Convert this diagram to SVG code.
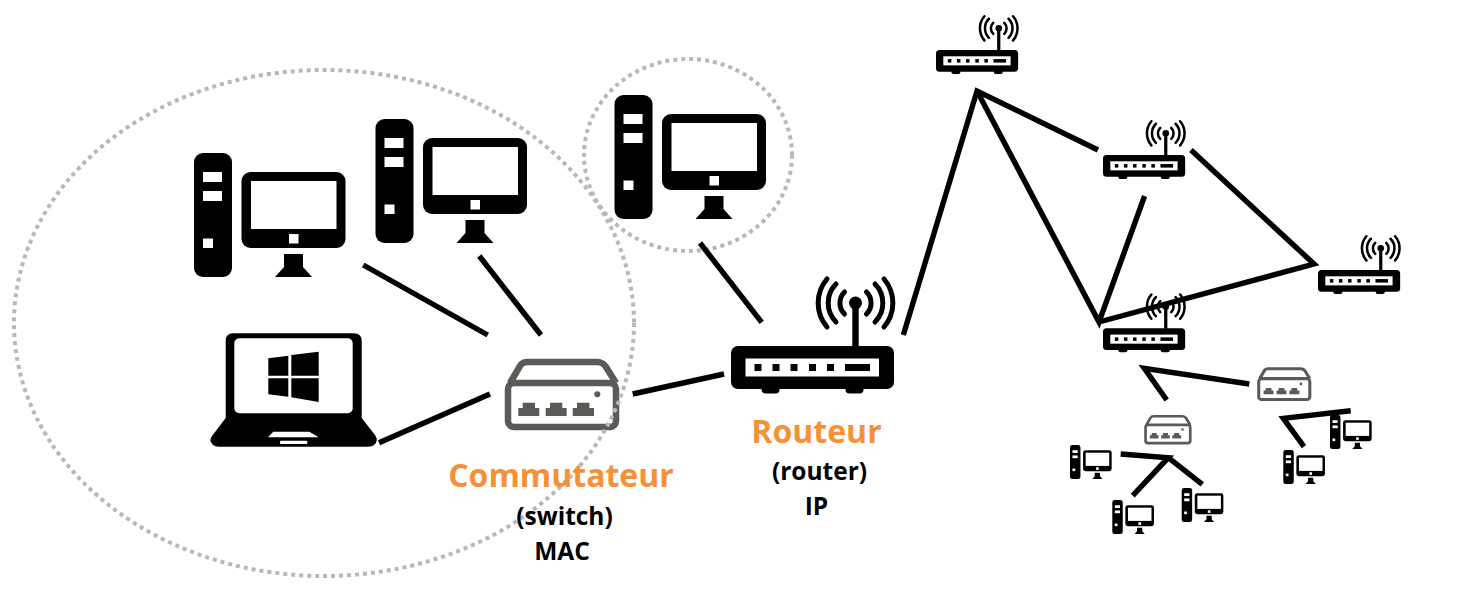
<svg xmlns="http://www.w3.org/2000/svg" width="1469" height="589" viewBox="0 0 1469 589">
<style>
.wire{fill:none;stroke:#000;stroke-width:5.400;stroke-linejoin:miter}
.halo{fill:none;stroke:#b8b8b8;stroke-width:4;stroke-dasharray:4 4}
.t{font-family:"Open Sans","Noto Sans",sans-serif;text-anchor:middle}
.big{font-size:32px;font-weight:700;fill:#f79138}
.sub{font-size:24.500px;font-weight:700;fill:#000}
.w{fill:#fff}
.sw{fill:#5a5b56}
</style>
<defs>
<g id="pc">
<rect x="0" y="0" width="38" height="124" rx="9"/>
<rect class="w" x="9" y="19" width="19" height="10"/>
<rect class="w" x="9" y="38" width="19" height="10"/>
<rect class="w" x="9" y="85.500" width="10" height="9.500"/>
<rect x="47.500" y="19" width="104" height="76" rx="9"/>
<rect class="w" x="57" y="28" width="85.500" height="48"/>
<rect class="w" x="95" y="81" width="9.500" height="9.500"/>
<polygon points="90,101 109,101 109,114 118,124 81,124 90,114"/>
</g>
<g id="router">
<rect x="0" y="0" width="163" height="43" rx="7"/>
<rect x="30.500" y="38" width="18" height="9.500" rx="4"/>
<rect x="114.500" y="38" width="18" height="9.500" rx="4"/>
<rect class="w" x="14.500" y="12.500" width="133.500" height="18"/>
<rect x="23.500" y="18" width="7" height="7"/>
<rect x="41.500" y="18" width="7" height="7"/>
<rect x="59.500" y="18" width="7" height="7"/>
<rect x="78" y="18" width="7" height="7"/>
<rect x="96" y="18" width="7" height="7"/>
<rect x="114" y="18" width="25" height="7"/>
<rect x="121.300" y="-43" width="6.400" height="44"/>
<circle cx="124.500" cy="-43" r="6.500"/>
<path fill="none" stroke="#000" stroke-width="5" stroke-linecap="round" d="M96,-67A37,37 0 0 0 96,-19M105,-62A27,27 0 0 0 105,-24M113.500,-54A15.500,15.500 0 0 0 113.500,-32M153,-67A37,37 0 0 1 153,-19M144,-62A27,27 0 0 1 144,-24M135.500,-54A15.500,15.500 0 0 1 135.500,-32"/>
</g>
<g id="switch">
<rect x="3" y="24" width="108" height="44" rx="6" fill="none" stroke="#5a5b56" stroke-width="6.500"/>
<path d="M5,24L15,7Q17,3 23,3L92,3Q98,3 101,8L111,24" fill="none" stroke="#5a5b56" stroke-width="6.500" stroke-linejoin="round"/>
<path class="sw" d="M13.300,49L17.700,49L17.700,43.700L30,43.700L30,49L34.300,49L34.300,57L13.300,57Z"/>
<path class="sw" d="M40.700,49L45,49L45,43.700L57.300,43.700L57.300,49L61.700,49L61.700,57L40.700,57Z"/>
<path class="sw" d="M67.700,49L72,49L72,43.700L84.400,43.700L84.400,49L89,49L89,57L67.700,57Z"/>
<circle class="sw" cx="92.300" cy="35.300" r="3"/>
</g>
</defs>
<g id="pc-1"><use href="#pc" x="194" y="153"/></g>
<g id="pc-2"><use href="#pc" x="375.500" y="119"/></g>
<g id="pc-3"><use href="#pc" x="614.500" y="95"/></g>
<g id="laptop">
<path d="M225.700,341Q225.700,333.300 233,333.300L354,333.300Q361.700,333.300 361.700,341L361.700,418L375,435Q379,441 374,445Q372,446.700 368,446.700L219,446.700Q215,446.700 212.500,444.500Q208.500,441 212,436L225.700,418Z"/>
<rect class="w" x="234.300" y="338.300" width="118.400" height="75" rx="5"/>
<polygon class="w" points="273.300,431.700 309.300,431.700 318.700,437.300 268,437.300"/>
<rect class="w" x="280" y="440.700" width="27.300" height="3.300" rx="1"/>
<polygon points="268.300,358.300 288.300,355.700 288.300,375.700 268.300,375.700"/>
<polygon points="291.300,355 318.700,351.700 318.700,375.700 291.300,375.700"/>
<polygon points="268.300,378.300 288.300,378.300 288.300,396.700 268.300,394.300"/>
<polygon points="291.300,378.300 318.700,378.300 318.700,402 291.300,397.300"/>
</g>
<g id="switch-main"><use href="#switch" x="505" y="359"/></g>
<g id="router-main"><use href="#router" x="731" y="346"/></g>
<g id="router-a"><use href="#router" transform="translate(936,50) scale(.504)"/></g>
<g id="router-b"><use href="#router" transform="translate(1103,155) scale(.504)"/></g>
<g id="router-c"><use href="#router" transform="translate(1103,328.300) scale(.504)"/></g>
<g id="router-d"><use href="#router" transform="translate(1318,270) scale(.504)"/></g>
<g id="switch-b"><use href="#switch" transform="translate(1257.300,367.300) scale(.473)"/></g>
<g id="switch-c"><use href="#switch" transform="translate(1144.300,415) scale(.414)"/></g>
<g id="pc-a"><use href="#pc" transform="translate(1070,445) scale(.275)"/></g>
<g id="pc-b"><use href="#pc" transform="translate(1112.300,500) scale(.275)"/></g>
<g id="pc-c"><use href="#pc" transform="translate(1181.700,488) scale(.275)"/></g>
<g id="pc-d"><use href="#pc" transform="translate(1330,415) scale(.275)"/></g>
<g id="pc-e"><use href="#pc" transform="translate(1283.300,450) scale(.275)"/></g>
<g id="zones">
<ellipse class="halo" cx="324" cy="323" rx="310" ry="253"/>
<ellipse class="halo" cx="688" cy="155" rx="104" ry="96"/>
</g>
<g id="connectors">
<path class="wire" d="M363.300,265L487.700,335"/>
<path class="wire" d="M479.300,256L541,335"/>
<path class="wire" d="M379,442.700L490,394"/>
<path class="wire" d="M700,243L761.700,322.300"/>
<path class="wire" d="M632.700,394L724,374"/>
<path class="wire" d="M903.300,335L977,91L1098,150"/>
<path class="wire" d="M977,91L1099,322L1144.600,196"/>
<path class="wire" d="M1099,322L1314,264L1191,150"/>
<path class="wire" d="M1166.700,400L1144.300,368.300L1249.300,384"/>
<path class="wire" d="M1120.700,454L1168.300,457.700L1132.700,495.700"/>
<path class="wire" d="M1168.300,457.700L1202.300,484.300"/>
<path class="wire" d="M1304,446.700L1283.300,418.300L1350.700,410.700"/>
</g>
<g id="labels">
<text class="t big" x="561" y="487">Commutateur</text>
<text class="t sub" x="564.500" y="525">(switch)</text>
<text class="t sub" x="562" y="560">MAC</text>
<text class="t big" x="816.500" y="443">Routeur</text>
<text class="t sub" x="819.500" y="480">(router)</text>
<text class="t sub" x="816.500" y="515">IP</text>
</g>
</svg>
